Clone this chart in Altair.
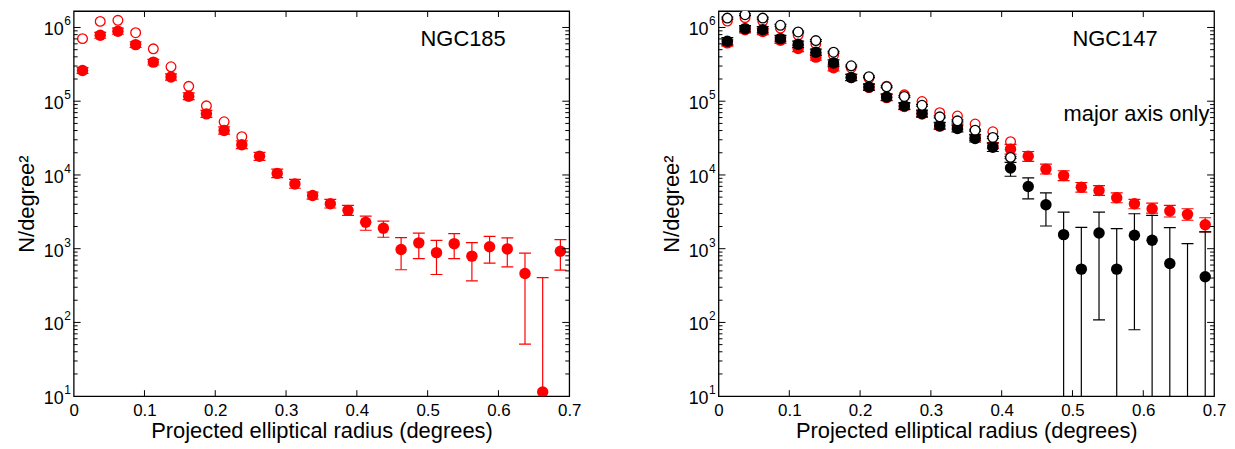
import altair as alt
import pandas as pd

# ---------------- data ----------------
X = [0.0125, 0.0375, 0.0625, 0.0875, 0.1125, 0.1375, 0.1625, 0.1875, 0.2125, 0.2375,
     0.2625, 0.2875, 0.3125, 0.3375, 0.3625, 0.3875, 0.4125, 0.4375, 0.4625, 0.4875,
     0.5125, 0.5375, 0.5625, 0.5875, 0.6125, 0.6375, 0.6625, 0.6875]

# NGC185 (left)
L_FILL = [2.61e5, 7.85e5, 8.9e5, 5.86e5, 3.39e5, 2.13e5, 1.17e5, 6.74e4, 4.01e4, 2.57e4,
          1.79e4, 1.05e4, 7.56e3, 5.27e3, 4.06e3, 3.31e3, 2.28e3, 1.89e3, 973, 1200,
          885, 1170, 792, 1060, 993, 461, 11.4, 925]
L_HI = [2.85e5, 8.6e5, 9.8e5, 6.4e5, 3.7e5, 2.35e5, 1.3e5, 7.5e4, 4.5e4, 2.9e4,
        2.03e4, 1.2e4, 8.7e3, 5.85e3, 4.66e3, 3.87e3, 2.77e3, 2.37e3, 1410, 1630,
        1300, 1600, 1210, 1470, 1400, 869, 404, 1330]
L_LO = [2.38e5, 7.15e5, 8.1e5, 5.35e5, 3.1e5, 1.93e5, 1.05e5, 6.05e4, 3.57e4, 2.28e4,
        1.58e4, 9.2e3, 6.6e3, 4.7e3, 3.56e3, 2.83e3, 1.78e3, 1.43e3, 518, 735,
        447, 735, 367, 637, 568, 50.8, 1, 513]
L_OPEN = [7.06e5, 1.21e6, 1.25e6, 8.5e5, 5.13e5, 2.93e5, 1.59e5, 8.65e4, 5.26e4, 3.3e4]

# NGC147 (right) - red filled
R_RF = [6.18e5, 9.3e5, 8.8e5, 6.71e5, 5.18e5, 3.96e5, 2.84e5, 2.1e5, 1.54e5, 1.12e5,
        8.5e4, 6.7e4, 4.6e4, 4.5e4, 3.23e4, 2.5e4, 2.24e4, 1.79e4, 1.2e4, 9.8e3,
        6.82e3, 6.16e3, 4.9e3, 4.06e3, 3.48e3, 3.24e3, 2.92e3, 2.11e3]
R_RF_HI = [6.8e5, 1.02e6, 9.7e5, 7.4e5, 5.7e5, 4.35e5, 3.12e5, 2.31e5, 1.69e5, 1.23e5,
           9.35e4, 7.4e4, 5.1e4, 4.95e4, 3.55e4, 2.75e4, 2.6e4, 2.08e4, 1.4e4, 1.14e4,
           7.9e3, 7.15e3, 5.7e3, 4.66e3, 4.15e3, 3.87e3, 3.48e3, 2.63e3]
R_RF_LO = [5.6e5, 8.45e5, 8.0e5, 6.1e5, 4.7e5, 3.6e5, 2.58e5, 1.91e5, 1.4e5, 1.02e5,
           7.7e4, 6.1e4, 4.2e4, 4.1e4, 2.94e4, 2.27e4, 1.92e4, 1.53e4, 1.03e4, 8.4e3,
           5.85e3, 5.3e3, 4.2e3, 3.48e3, 3.04e3, 2.69e3, 2.43e3, 1.69e3]
# red open
R_RO = [1.22e6, 1.36e6, 1.22e6, 9.8e5, 7.9e5, 6.0e5, 4.2e5, 2.85e5, 2.05e5, 1.6e5,
        1.22e5, 9.9e4, 7.0e4, 6.3e4, 4.9e4, 3.85e4, 2.82e4]
# black filled (major axis only)
R_BF = [6.52e5, 9.64e5, 9.33e5, 7.06e5, 5.93e5, 4.62e5, 3.29e5, 2.1e5, 1.56e5, 1.14e5,
        8.64e4, 6.81e4, 4.64e4, 4.27e4, 3.13e4, 2.37e4, 1.24e4, 6.98e3, 3.94e3, 1550,
        528, 1630, 528, 1520, 1300, 629, 5, 416]
R_BF_HI = [7.3e5, 1.06e6, 1.03e6, 7.8e5, 6.55e5, 5.1e5, 3.63e5, 2.32e5, 1.72e5, 1.26e5,
           9.55e4, 7.55e4, 5.15e4, 4.75e4, 3.5e4, 2.7e4, 1.48e4, 9.12e3, 5.71e3, 3.14e3,
           1.95e3, 3.14e3, 1.87e3, 2.98e3, 2.83e3, 1.93e3, 1.17e3, 1.69e3]
R_BF_LO = [5.8e5, 8.75e5, 8.45e5, 6.4e5, 5.37e5, 4.18e5, 2.98e5, 1.9e5, 1.41e5, 1.03e5,
           7.8e4, 6.15e4, 4.18e4, 3.85e4, 2.8e4, 2.08e4, 9.6e3, 4.74e3, 2.03e3, 1,
           1, 108, 1, 79.5, 1, 1, 1, 1]
# black open (major axis only)
R_BO = [1.34e6, 1.49e6, 1.34e6, 1.07e6, 8.7e5, 6.64e5, 4.62e5, 3.02e5, 2.15e5, 1.57e5,
        1.16e5, 8.8e4, 6.14e4, 5.42e4, 4.05e4, 3.23e4, 1.73e4]
R_BO_HI = [1.38e6, 1.535e6, 1.38e6, 1.1e6, 8.95e5, 6.83e5, 4.75e5, 3.1e5, 2.21e5, 1.61e5,
           1.19e5, 9.05e4, 6.32e4, 5.58e4, 4.17e4, 3.33e4, 1.78e4]
R_BO_LO = [1.3e6, 1.445e6, 1.3e6, 1.04e6, 8.45e5, 6.45e5, 4.49e5, 2.93e5, 2.09e5, 1.53e5,
           1.13e5, 8.55e4, 5.96e4, 5.26e4, 3.93e4, 3.13e4, 1.68e4]

X_TICKS = [0, 0.1, 0.2, 0.3, 0.4, 0.5, 0.6, 0.7]
X_INNER = [0.1, 0.2, 0.3, 0.4, 0.5, 0.6]
Y_DECADES = [10, 100, 1000, 10000, 100000, 1000000]
Y_EXP = ["1", "2", "3", "4", "5", "6"]
Y_MINOR = [m * 10 ** k for k in range(1, 7) for m in range(2, 10) if m * 10 ** k < 1.67e6]

# ---------------- styling ----------------
W, H = 498, 387
RED = "#ff0000"
FONT = "Liberation Sans"

XS = alt.Scale(domain=[0, 0.7], nice=False, zero=False)
YS = alt.Scale(type="log", domain=[10, 1.67e6], nice=False)
XAX = alt.Axis(values=X_TICKS, format=".1~f", ticks=False, domain=False, grid=False,
               labelFontSize=17, labelPadding=6, labelFlush=False, titleFontSize=22,
               titlePadding=3, titleFontWeight="normal", labelColor="black", titleColor="black")
YAX = alt.Axis(labels=False, ticks=False, domain=False, grid=False, titleFontSize=22,
               titlePadding=35, titleFontWeight="normal", titleColor="black")


def xe(f="x"):
    return alt.X(f"{f}:Q", scale=XS, axis=XAX, title="Projected elliptical radius (degrees)")


def ye(f):
    return alt.Y(f"{f}:Q", scale=YS, axis=YAX, title="N/degree²")


def errbars(xs, lo, hi, color):
    df = pd.DataFrame({"x": xs[:len(lo)], "lo": lo, "hi": hi})
    b = alt.Chart(df)
    return [
        b.mark_rule(color=color, strokeWidth=1.2, clip=True).encode(x=xe(), y=ye("lo"), y2="hi:Q"),
        b.mark_rule(color=color, strokeWidth=1.2, clip=True, xOffset=-6, x2Offset=6).encode(
            x=xe(), x2="x:Q", y=ye("lo")),
        b.mark_rule(color=color, strokeWidth=1.2, clip=True, xOffset=-6, x2Offset=6).encode(
            x=xe(), x2="x:Q", y=ye("hi")),
    ]


def points(xs, vals, color, filled, white_fill=False):
    df = pd.DataFrame({"x": xs[:len(vals)], "v": vals})
    if filled:
        m = alt.Chart(df).mark_point(shape="circle", filled=True, size=132, color=color,
                                     opacity=1, clip=True)
    elif white_fill:
        m = alt.Chart(df).mark_point(shape="circle", filled=True, size=95, fill="white",
                                     stroke=color, fillOpacity=1, strokeOpacity=1,
                                     strokeWidth=1.3, clip=True)
    else:
        m = alt.Chart(df).mark_point(shape="circle", filled=False, size=95, color=color,
                                     opacity=1, strokeWidth=1.3, clip=True)
    return [m.encode(x=xe(), y=ye("v"))]


def frame_ticks():
    tx = alt.Chart(pd.DataFrame({"t": X_INNER}))
    tmaj = alt.Chart(pd.DataFrame({"t": Y_DECADES[1:]}))
    tmin = alt.Chart(pd.DataFrame({"t": Y_MINOR}))
    lab = alt.Chart(pd.DataFrame({"t": Y_DECADES, "lab": ["10"] * 6, "e": Y_EXP}))
    rule = dict(color="black", strokeWidth=1)
    return [
        tx.mark_rule(**rule).encode(x=xe("t"), y=alt.value(H), y2=alt.value(H - 6)),
        tx.mark_rule(**rule).encode(x=xe("t"), y=alt.value(0), y2=alt.value(6)),
        tmaj.mark_rule(**rule).encode(y=ye("t"), x=alt.value(0), x2=alt.value(7)),
        tmaj.mark_rule(**rule).encode(y=ye("t"), x=alt.value(W), x2=alt.value(W - 7)),
        tmin.mark_rule(**rule).encode(y=ye("t"), x=alt.value(0), x2=alt.value(4)),
        tmin.mark_rule(**rule).encode(y=ye("t"), x=alt.value(W), x2=alt.value(W - 4)),
        lab.mark_text(align="right", baseline="middle", fontSize=18, dy=3, color="black").encode(
            y=ye("t"), x=alt.value(-10), text="lab:N"),
        lab.mark_text(align="left", baseline="middle", fontSize=12, dy=-6, color="black").encode(
            y=ye("t"), x=alt.value(-9.5), text="e:N"),
    ]


def label(x, y, txt, align="left"):
    df = pd.DataFrame({"x": [x], "y": [y], "t": [txt]})
    return [alt.Chart(df).mark_text(align=align, baseline="middle", fontSize=22, color="black").encode(
        x=xe(), y=ye("y"), text="t:N")]


left_layers = (errbars(X, L_LO, L_HI, RED) + points(X, L_FILL, RED, True)
               + points(X, L_OPEN, RED, False) + label(0.49, 7.0e5, "NGC185") + frame_ticks())
left = alt.layer(*left_layers).properties(width=W, height=H)

right_layers = (errbars(X, R_RF_LO, R_RF_HI, RED) + points(X, R_RF, RED, True)
                + points(X, R_RO, RED, False)
                + errbars(X, R_BF_LO, R_BF_HI, "black") + points(X, R_BF, "black", True)
                + errbars(X, R_BO_LO, R_BO_HI, "black") + points(X, R_BO, "black", False, True)
                + label(0.50, 7.0e5, "NGC147") + label(0.6934, 6.8e4, "major axis only", "right")
                + frame_ticks())
right = alt.layer(*right_layers).properties(width=W, height=H)

chart = (
    alt.hconcat(left, right, spacing=150, bounds="flush")
    .properties(padding={"left": 7, "top": 0, "right": 0, "bottom": 0})
    .configure(font=FONT)
    .configure_view(stroke="black", strokeWidth=1.3)
)

chart.save("out.html", embed_options={"renderer": "svg", "actions": False})
